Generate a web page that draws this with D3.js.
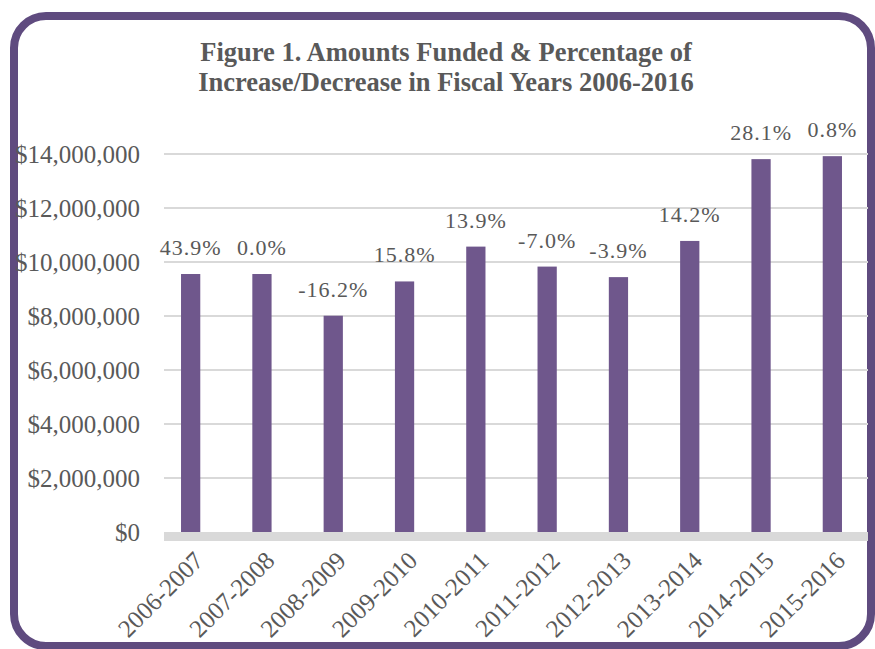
<!DOCTYPE html>
<html><head><meta charset="utf-8">
<script src="https://cdn.jsdelivr.net/npm/d3@7/dist/d3.min.js"></script>
<style>body{margin:0;background:#fff}svg{display:block}</style>
</head><body>
<svg id="c" width="875" height="649"></svg>
<script>
const categories = ["2006-2007","2007-2008","2008-2009","2009-2010","2010-2011","2011-2012","2012-2013","2013-2014","2014-2015","2015-2016"];
const amounts = [9555000, 9555000, 8010000, 9280000, 10570000, 9830000, 9440000, 10780000, 13810000, 13920000];
const pctLabels = ["43.9%","0.0%","-16.2%","15.8%","13.9%","-7.0%","-3.9%","14.2%","28.1%","0.8%"];
const yTicks = [0,2000000,4000000,6000000,8000000,10000000,12000000,14000000];
const titleLines = ["Figure 1. Amounts Funded & Percentage of","Increase/Decrease in Fiscal Years 2006-2016"];

const svg = d3.select("#c");
const serif = "'Liberation Serif','DejaVu Serif',serif";
const textCol = "#595959";

svg.append("rect").attr("x",14).attr("y",16).attr("width",857).attr("height",630)
  .attr("rx",32).attr("fill","#fff").attr("stroke","#5f4b7f").attr("stroke-width",8);

svg.append("g").selectAll("text").data(titleLines).join("text")
  .attr("x",446).attr("y",(d,i)=>61+i*30).attr("text-anchor","middle")
  .attr("font-family",serif).attr("font-weight","bold").attr("font-size",26.5)
  .attr("fill",textCol).text(d=>d);

const x = d3.scaleBand().domain(categories).range([155,868]).paddingInner(0.73).paddingOuter(0.365);
const y = d3.scaleLinear().domain([0,14000000]).range([532,154]);

// gridlines
svg.append("g").selectAll("line").data(yTicks.filter(d=>d>0)).join("line")
  .attr("x1",164).attr("x2",868).attr("y1",d=>y(d)).attr("y2",d=>y(d))
  .attr("stroke","#d9d9d9").attr("stroke-width",2);

// y axis labels
const fmt = d3.format("$,");
const yAxis = d3.axisLeft(y).tickValues(yTicks).tickFormat(d=>fmt(d)).tickSize(0).tickPadding(0);
const yg = svg.append("g").attr("transform","translate(140,0)").call(yAxis);
yg.select(".domain").remove();
yg.selectAll("text").attr("font-family",serif).attr("font-size",25).attr("fill",textCol).attr("dy","0.35em");

// bars
svg.append("g").selectAll("rect").data(amounts).join("rect")
  .attr("x",(d,i)=>x(categories[i])).attr("width",x.bandwidth())
  .attr("y",d=>y(d)).attr("height",d=>y(0)-y(d)).attr("fill","#6f578c");

// baseline
svg.append("line").attr("x1",164).attr("x2",868).attr("y1",y(0)+4.5).attr("y2",y(0)+4.5)
  .attr("stroke","#d9d9d9").attr("stroke-width",9);

// data labels
svg.append("g").selectAll("text").data(amounts).join("text")
  .attr("x",(d,i)=>x(categories[i])+x.bandwidth()/2).attr("y",d=>y(d)-19)
  .attr("text-anchor","middle").attr("font-family",serif).attr("font-size",22)
  .attr("letter-spacing",1).attr("fill",textCol).text((d,i)=>pctLabels[i]);

// x labels
const xAxis = d3.axisBottom(x).tickSize(0).tickPadding(0);
const xg = svg.append("g").attr("transform","translate(0,556)").call(xAxis);
xg.select(".domain").remove();
xg.selectAll("text").attr("font-family",serif).attr("font-size",25).attr("fill",textCol)
  .attr("text-anchor","end").attr("dy","0.35em")
  .attr("transform","translate(8,0) rotate(-45)");
</script>
</body></html>
